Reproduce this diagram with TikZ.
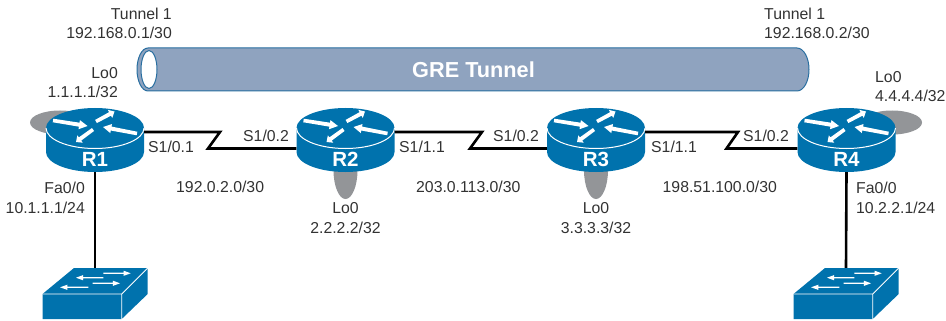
\documentclass[tikz,border=0pt]{standalone}
\usepackage{fontspec}
\setmainfont{Liberation Sans}
\usetikzlibrary{calc}
\definecolor{ciscoblue}{RGB}{0,114,173}
\definecolor{tunnelfill}{RGB}{143,163,191}
\definecolor{tunneledge}{RGB}{40,110,160}
\definecolor{loopgray}{RGB}{147,149,152}
\definecolor{labelgray}{RGB}{50,50,50}
\tikzset{
  x=1pt,y=-1pt,
  netlabel/.style={font=\fontsize{15.8}{19.5}\selectfont,text=labelgray,inner sep=0pt},
  link/.style={draw=black,line width=2.6pt},
  loopback/.style={fill=loopgray},
  anchorbox/.style={inner sep=0pt,minimum width=98pt,minimum height=64pt},
  switchbox/.style={inner sep=0pt,minimum width=105pt,minimum height=51pt},
}
% tapered white arrow
\newcommand{\routerarrow}[4]{%
  \coordinate (t) at (#1,#2);\coordinate (h) at (#3,#4);
  \fill[white] ($(t)!1.8pt!90:(h)$) -- ($(t)!.76!(h)!2pt!90:(h)$) -- ($(t)!.76!(h)!4.6pt!90:(h)$) -- (h)
    -- ($(t)!.76!(h)!4.6pt!-90:(h)$) -- ($(t)!.76!(h)!2pt!-90:(h)$) -- ($(t)!1.8pt!-90:(h)$) -- cycle;}
\newcommand{\switcharrow}[4]{%
  \coordinate (t) at (#1,#2);\coordinate (h) at (#3,#4);
  \fill[white] ($(t)!.6pt!90:(h)$) -- ($(t)!.74!(h)!.6pt!90:(h)$) -- ($(t)!.74!(h)!2.6pt!90:(h)$) -- (h)
    -- ($(t)!.74!(h)!2.6pt!-90:(h)$) -- ($(t)!.74!(h)!.6pt!-90:(h)$) -- ($(t)!.6pt!-90:(h)$) -- cycle;}
% router: name, centre x, label
\newcommand{\router}[3]{%
  \begin{scope}[shift={(#2,0)}]
    \fill[ciscoblue] (-49,128) -- (-49,152) arc[x radius=49,y radius=20,start angle=180,end angle=0]
      -- (49,128) arc[x radius=49,y radius=20,start angle=360,end angle=180] -- cycle;
    \draw[white,line width=1pt] (-49,128) arc[x radius=49,y radius=20.5,start angle=180,end angle=0];
    \routerarrow{-42}{120.5}{-7.5}{126}
    \routerarrow{1}{121.5}{19.5}{111.5}
    \routerarrow{42}{133.5}{8}{127}
    \routerarrow{-2}{129.5}{-19}{142}
    \node[anchorbox] (#1) at (0,140) {};
    \node[font=\bfseries\fontsize{20.5}{20.5}\selectfont,text=white,inner sep=0pt] (#1t) at (0,159.5) {#3};
  \end{scope}}
% switch: name, x offset
\newcommand{\switchicon}[2]{%
  \begin{scope}[shift={(#2,0)}]
    \fill[ciscoblue] (42.5,294) -- (74,268) -- (147.7,268) -- (147.7,294) -- (121.7,319) -- (42.5,319) -- cycle;
    \draw[white,line width=.8pt] (42.5,294) -- (121.7,294) -- (121.7,319) (121.7,294) -- (147.7,268);
    \switcharrow{103.3}{273.3}{130.7}{273.3}
    \switcharrow{103.3}{277.7}{76}{277.7}
    \switcharrow{92.7}{283.3}{120}{283.3}
    \switcharrow{88.3}{287.3}{60}{287.3}
    \node[switchbox] (#1) at (95,293.5) {};
  \end{scope}}
\begin{document}
\begin{tikzpicture}
\useasboundingbox (0,0) rectangle (946,321);
% tunnel
\draw[fill=tunnelfill,draw=tunneledge,line width=1pt] (148,48) -- (797,48)
  arc[x radius=12,y radius=21.5,start angle=-90,end angle=90]
  -- (148,91) arc[x radius=11,y radius=21.5,start angle=90,end angle=270] -- cycle;
\draw[fill=white,draw=tunneledge,line width=1pt] (149,69.5) ellipse[x radius=8,y radius=19];
\node[font=\bfseries\fontsize{21.7}{21.7}\selectfont,text=white,inner sep=0pt] (gre) at (473.5,70) {GRE Tunnel};
% loopbacks
\fill[loopback] (60,122.5) ellipse[x radius=30,y radius=12];
\fill[loopback] (892,122.5) ellipse[x radius=30,y radius=12];
\fill[loopback] (345.5,170) ellipse[x radius=12,y radius=29];
\fill[loopback] (596,170) ellipse[x radius=12,y radius=29];
% switches and routers
\switchicon{SW1}{0}
\switchicon{SW2}{751}
\router{R1}{95}{R1}
\router{R2}{345.5}{R2}
\router{R3}{596}{R3}
\router{R4}{846.5}{R4}
% links
\coordinate (z1a) at (220,132);\coordinate (z1b) at (208,148.5);
\coordinate (z2a) at (482,132);\coordinate (z2b) at (470,148.5);
\coordinate (z3a) at (738,132);\coordinate (z3b) at (726.5,148.5);
\draw[link] (R1.east |- z1a) -- (z1a) -- (z1b) -- (R2.west |- z1b);
\draw[link] (R2.east |- z2a) -- (z2a) -- (z2b) -- (R3.west |- z2b);
\draw[link] (R3.east |- z3a) -- (z3a) -- (z3b) -- (R4.west |- z3b);
\draw[link] (R1.south) -- (SW1.north);
\draw[link] (R4.south) -- (SW2.north);
% labels
\tikzset{every node/.append style={netlabel}}
\node[anchor=base east,align=right] (l1) at (172,39) {Tunnel 1\\192.168.0.1/30};
\node[anchor=base west,align=left] (l2) at (764,39) {Tunnel 1\\192.168.0.2/30};
\node[anchor=base east,align=right] (l3) at (118,98) {Lo0\\1.1.1.1/32};
\node[anchor=base west,align=left] (l4) at (875,102) {Lo0\\4.4.4.4/32};
\node[anchor=base,align=center] (l5) at (345.5,233) {Lo0\\2.2.2.2/32};
\node[anchor=base,align=center] (l6) at (596,233) {Lo0\\3.3.3.3/32};
\node[anchor=base east,align=right] (l7) at (85,213) {Fa0/0\\10.1.1.1/24};
\node[anchor=base west,align=left] (l8) at (856,213) {Fa0/0\\10.2.2.1/24};
\node[anchor=base west] (s1) at (148,152) {S1/0.1};
\node[anchor=base west] (s2) at (243,141) {S1/0.2};
\node[anchor=base west] (s3) at (399,152) {S1/1.1};
\node[anchor=base west] (s4) at (493,141) {S1/0.2};
\node[anchor=base west] (s5) at (651,152) {S1/1.1};
\node[anchor=base west] (s6) at (743,141) {S1/0.2};
\node[anchor=base west] (n1) at (176,192) {192.0.2.0/30};
\node[anchor=base west] (n2) at (416,192) {203.0.113.0/30};
\node[anchor=base west] (n3) at (662.5,192) {198.51.100.0/30};
\end{tikzpicture}
\end{document}
